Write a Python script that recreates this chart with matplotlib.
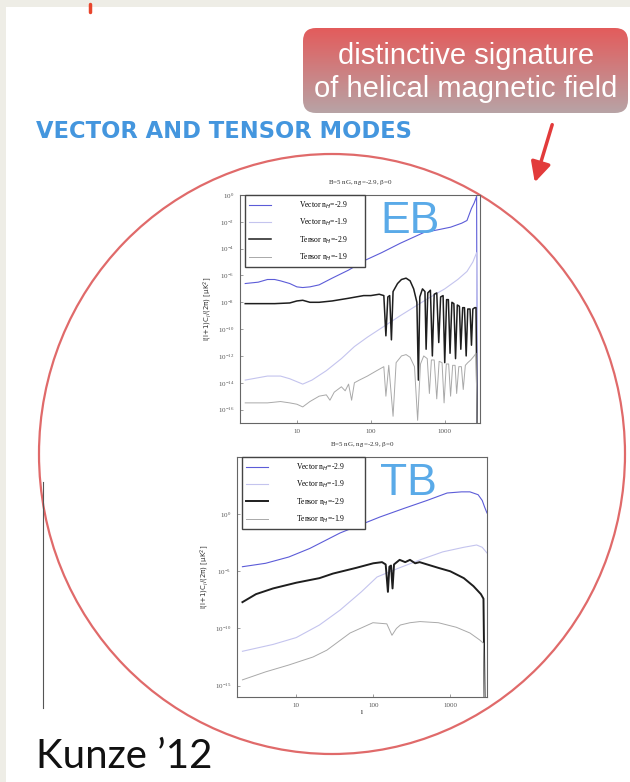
import matplotlib
matplotlib.use("Agg")
import matplotlib.pyplot as plt
import numpy as np
from matplotlib.patches import Ellipse, FancyBboxPatch, FancyArrowPatch, Rectangle

# ---------------- data (l, log10 of |l(l+1)C_l/2pi|) ----------------
# EB panel
eb_vec29_l = [2, 3, 4, 5, 6, 8, 10, 12, 15, 20, 30, 50, 85, 140, 250, 520, 800, 1200, 1700, 2000, 2300, 2500, 2700, 2750]
eb_vec29_y = [-6.6, -6.5, -6.3, -6.3, -6.4, -6.6, -6.85, -6.9, -6.85, -6.7, -6.2, -5.6, -4.85, -4.3, -3.6, -2.8, -2.6, -2.4, -2.1, -1.9, -1.0, -0.6, -0.1, -17.5]

eb_vec19_l = [2, 4, 6, 8, 12, 16, 25, 40, 60, 90, 150, 250, 400, 600, 1000, 1500, 2000, 2400, 2700, 2750]
eb_vec19_y = [-13.8, -13.5, -13.5, -13.7, -14.1, -13.8, -13.1, -12.2, -11.3, -10.6, -9.8, -9.0, -8.3, -7.7, -7.0, -6.3, -5.7, -5.0, -4.3, -17.5]

eb_ten29_l = [2, 3, 5, 8, 10, 12, 15, 20, 30, 50, 80, 100, 130, 150, 160, 170, 180, 190, 200, 230, 260, 300, 340,
              380, 420, 440, 460, 500, 540, 560, 590, 640, 680, 720, 780, 830, 880, 950, 1000, 1060, 1120, 1180,
              1250, 1330, 1400, 1480, 1580, 1650, 1750, 1850, 1950, 2050, 2200, 2300, 2400, 2550, 2650, 2750]
eb_ten29_y = [-8.1, -8.1, -8.1, -8.05, -7.9, -7.85, -8.0, -8.0, -7.9, -7.7, -7.5, -7.5, -7.4, -7.5, -10.5, -7.6, -7.5,
              -10.8, -7.2, -6.6, -6.3, -6.2, -6.4, -7.0, -8.0, -13.8, -7.6, -7.0, -7.2, -11.5, -7.3, -7.1, -12.0,
              -7.4, -7.3, -11.0, -7.6, -7.5, -12.5, -7.8, -7.8, -11.8, -8.0, -8.1, -12.2, -8.2, -8.3, -11.5, -8.4,
              -8.4, -12.0, -8.5, -8.5, -11.2, -8.5, -8.4, -8.4, -17.5]

eb_ten19_l = [2, 4, 6, 8, 10, 12, 15, 20, 25, 28, 32, 40, 45, 50, 55, 60, 70, 90, 120, 150, 160, 175, 200, 220, 260,
              300, 340, 390, 430, 470, 520, 580, 620, 660, 720, 780, 840, 920, 980, 1050, 1130, 1200, 1280, 1380,
              1450, 1550, 1680, 1780, 1900, 2050, 2250, 2500, 2650, 2750]
eb_ten19_y = [-15.5, -15.5, -15.4, -15.5, -15.6, -15.8, -15.4, -15.0, -14.9, -15.3, -14.7, -14.3, -14.6, -14.1, -15.3,
              -14.0, -13.8, -13.5, -13.1, -12.8, -15.0, -12.7, -16.5, -12.5, -12.0, -11.9, -12.1, -12.8, -16.8,
              -12.6, -12.0, -12.2, -14.8, -12.3, -12.3, -15.2, -12.4, -12.5, -15.5, -12.6, -12.6, -15.0, -12.7,
              -12.7, -14.8, -12.8, -12.8, -14.5, -12.7, -12.5, -12.3, -12.0, -11.8, -17.5]

# TB panel
tb_vec29_l = [2, 4, 8, 15, 37, 70, 122, 250, 500, 911, 1400, 1800, 2300, 2600, 2800, 3000]
tb_vec29_y = [-4.6, -4.3, -3.75, -3.0, -1.65, -0.9, -0.25, 0.5, 1.2, 1.85, 1.95, 1.95, 1.7, 1.2, 0.6, 0.1]

tb_vec19_l = [2, 5, 10, 20, 37, 70, 112, 200, 405, 800, 1500, 2200, 2600, 3000]
tb_vec19_y = [-12.0, -11.4, -10.8, -9.7, -8.4, -6.8, -5.5, -4.8, -4.0, -3.3, -2.9, -2.7, -2.9, -3.4]

tb_ten29_l = [2, 3, 5, 10, 20, 30, 60, 100, 130, 145, 155, 162, 170, 178, 186, 220, 260, 300, 350, 400, 500, 700,
              1000, 1500, 2000, 2500, 2700, 2800]
tb_ten29_y = [-7.7, -7.0, -6.5, -6.0, -5.6, -5.2, -4.7, -4.3, -4.2, -4.4, -6.8, -4.6, -4.5, -6.5, -4.4, -4.0, -4.2,
              -4.0, -4.3, -4.2, -4.4, -4.7, -5.0, -5.6, -6.3, -7.0, -7.4, -17.0]

tb_ten19_l = [2, 4, 8, 16.5, 25, 50, 99, 150, 175, 200, 225, 300, 405, 700, 1200, 1800, 2400, 2700, 2800]
tb_ten19_y = [-14.5, -13.8, -13.2, -12.5, -11.9, -10.4, -9.5, -9.6, -10.6, -10.0, -9.7, -9.5, -9.4, -9.5, -9.9,
              -10.4, -11.0, -11.3, -17.0]

legend_labels = ["Vector n$_H$=-2.9", "Vector n$_H$=-1.9", "Tensor n$_H$=-2.9", "Tensor n$_H$=-1.9"]
panel_title = "B=5 nG, n$_B$=-2.9, β=0"
ylabel_text = "l(l+1)C$_l$/(2π) [μK$^2$]"

W, H = 630, 782
COL_VEC29 = "#5c5cd8"
COL_VEC19 = "#c4c4ee"
COL_TEN29 = "#1e1e1e"
COL_TEN19 = "#a9a9a9"

fig = plt.figure(figsize=(W / 100, H / 100), dpi=100)
fig.patch.set_facecolor("white")

# background layer in pixel coordinates
bg = fig.add_axes([0, 0, 1, 1], zorder=0)
bg.set_xlim(0, W)
bg.set_ylim(H, 0)
bg.axis("off")

bg.add_patch(Rectangle((0, 0), W, 7, color="#eeede6", lw=0))
bg.add_patch(Rectangle((0, 0), 6, H, color="#eeede6", lw=0))
bg.plot([90, 90], [4, 12], color="#e8452c", lw=2.5, solid_capstyle="round")

# red callout box with gradient
box = FancyBboxPatch((303, 28), 325, 85, boxstyle="round,pad=0,rounding_size=13",
                     facecolor="none", edgecolor="none")
bg.add_patch(box)
grad = np.linspace(0, 1, 100)[:, None]
top = np.array([0.89, 0.36, 0.36])
bot = np.array([0.72, 0.64, 0.65])
img = top[None, None, :] * (1 - grad[:, :, None]) + bot[None, None, :] * grad[:, :, None]
im = bg.imshow(img, extent=(303, 628, 113, 28), aspect="auto", zorder=1)
im.set_clip_path(box)
bg.text(466, 56, "distinctive signature", ha="center", va="center", color="white",
        fontsize=21, family="Liberation Sans", zorder=2)
bg.text(466, 89, "of helical magnetic field", ha="center", va="center", color="white",
        fontsize=21, family="Liberation Sans", zorder=2)

bg.text(36, 131, "VECTOR AND TENSOR MODES", ha="left", va="center", color="#4496de",
        fontsize=16.3, family="DejaVu Sans", fontweight="bold")

# arrow and circle
bg.add_patch(FancyArrowPatch((553, 122), (534, 185), arrowstyle="-|>", mutation_scale=30,
                             color="#e23b3b", lw=2.5))
bg.add_patch(Ellipse((332, 454), 586, 600, fill=False, edgecolor="#e06a6a", lw=1.6))

bg.plot([43, 43], [482, 708], color="#555555", lw=0.8)
bg.text(36, 757, "Kunze \u201912", ha="left", va="center", color="#111111", fontsize=29, family="Lato")


def style_panel(ax, ylim, yticks):
    ax.set_xscale("log")
    ax.set_yscale("log")
    ax.set_xlim(1.7, 3000)
    ax.set_ylim(*ylim)
    ax.set_yticks(yticks)
    ax.set_xticks([10, 100, 1000])
    ax.set_xticklabels(["10", "100", "1000"])
    ax.minorticks_off()
    ax.tick_params(labelsize=5, length=2, width=0.4, direction="in", colors="#555555", pad=4)
    for s in ax.spines.values():
        s.set_color("#666666")
        s.set_linewidth(0.8)
    ax.set_title(panel_title, fontsize=5, pad=7, family="Liberation Serif", color="#333333")
    ax.set_ylabel(ylabel_text, fontsize=5, labelpad=3, color="#333333")
    for lab in ax.get_xticklabels() + ax.get_yticklabels():
        lab.set_family("Liberation Serif")


def draw_curves(ax, series, lws):
    cols = [COL_VEC29, COL_VEC19, COL_TEN29, COL_TEN19]
    for (l, y), c, lw, lab in zip(series, cols, lws, legend_labels):
        ax.plot(l, 10.0 ** np.array(y), color=c, lw=lw, label=lab)


def add_legend(ax, width):
    ax.legend(loc="upper left", bbox_to_anchor=(0.02, 0.998, width, 0), mode="expand",
              frameon=True, fancybox=False, edgecolor="#444444", framealpha=1, handlelength=2.9,
              handletextpad=3.6, labelspacing=0.75, borderpad=0.55, borderaxespad=0.0,
              prop={"family": "Liberation Serif", "size": 5.5})


# EB panel
ax1 = fig.add_axes([240 / W, 1 - 423 / H, 240 / W, 228 / H], zorder=2)
draw_curves(ax1, [(eb_vec29_l, eb_vec29_y), (eb_vec19_l, eb_vec19_y),
                  (eb_ten29_l, eb_ten29_y), (eb_ten19_l, eb_ten19_y)], [0.8, 0.8, 1.1, 0.7])
style_panel(ax1, (1e-17, 1.0), [10.0 ** k for k in range(0, -17, -2)])
add_legend(ax1, 0.5)
ax1.text(0.585, 0.975, "EB", transform=ax1.transAxes, ha="left", va="top", fontsize=32,
         color="#5aaae8", family="Liberation Sans")

# TB panel
ax2 = fig.add_axes([237 / W, 1 - 697 / H, 250 / W, 240 / H], zorder=2)
draw_curves(ax2, [(tb_vec29_l, tb_vec29_y), (tb_vec19_l, tb_vec19_y),
                  (tb_ten29_l, tb_ten29_y), (tb_ten19_l, tb_ten19_y)], [0.8, 0.8, 1.4, 0.7])
style_panel(ax2, (1e-16, 1e5), [1e0, 1e-5, 1e-10, 1e-15])
ax2.set_xlabel("l", fontsize=5, labelpad=2, family="Liberation Serif")
add_legend(ax2, 0.49)
ax2.text(0.572, 0.975, "TB", transform=ax2.transAxes, ha="left", va="top", fontsize=32,
         color="#5aaae8", family="Liberation Sans")

fig.savefig("out.png", dpi=100)
